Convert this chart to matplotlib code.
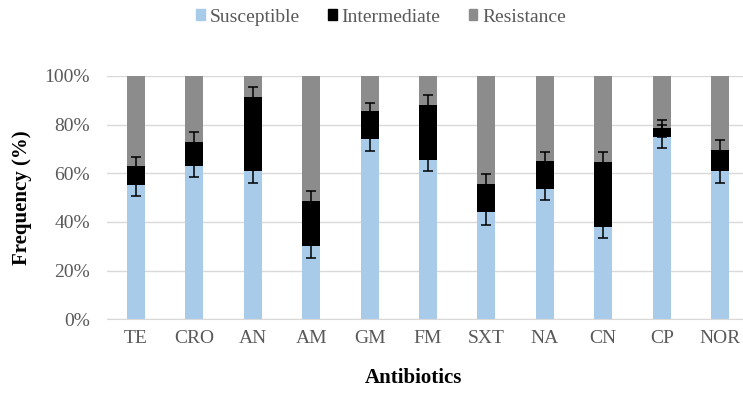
"""Frecuencia de susceptibilidad por antibiótico (barras apiladas al 100%)."""

import matplotlib
matplotlib.use("Agg")
import matplotlib.pyplot as plt
import numpy as np
from matplotlib.patches import Patch

antibioticos = ["TE", "CRO", "AN", "AM", "GM", "FM", "SXT", "NA", "CN", "CP", "NOR"]
susceptible = [55, 63, 61, 30, 74, 65.5, 44, 53.5, 38, 75, 61]
intermedio = [8, 10, 30.5, 18.5, 11.5, 22.5, 11.5, 11.5, 26.5, 3.5, 8.5]
err_susceptible = [4.4, 4.4, 4.8, 4.7, 4.8, 4.5, 5.2, 4.5, 4.6, 4.7, 4.8]
err_intermedio = [3.7, 3.8, 4.1, 4.1, 3.6, 4.1, 4.1, 3.7, 4.1, 3.4, 4.1]

AZUL = "#A9CBEA"
NEGRO = "#000000"
GRIS = "#8C8C8C"
TEXTO = "#595959"

plt.rcParams["font.family"] = ["Liberation Serif", "DejaVu Serif"]


def main() -> None:
    x = np.arange(len(antibioticos))
    s = np.array(susceptible)
    i = np.array(intermedio)
    r = 100 - s - i
    ancho = 0.31

    fig = plt.figure(figsize=(7.43, 3.94), dpi=100)
    ax = fig.add_axes([106.6 / 743, 74.7 / 394, 642.8 / 743, 243.3 / 394])

    ax.bar(x, s, ancho, color=AZUL, zorder=2)
    ax.bar(x, i, ancho, bottom=s, color=NEGRO, zorder=2)
    ax.bar(x, r, ancho, bottom=s + i, color=GRIS, zorder=2)

    err_kw = dict(fmt="none", ecolor="black", elinewidth=1.1, capsize=3.3, capthick=1.1, zorder=3)
    ax.errorbar(x, s, yerr=err_susceptible, **err_kw)
    ax.errorbar(x, s + i, yerr=err_intermedio, **err_kw)

    ax.set_xlim(-0.5, len(antibioticos) - 0.5)
    ax.set_ylim(0, 100)
    ax.set_yticks(np.arange(0, 101, 20))
    ax.set_yticklabels([f"{v}%" for v in range(0, 101, 20)])
    ax.set_xticks(x)
    ax.set_xticklabels(antibioticos)
    ax.grid(axis="y", color="#D9D9D9", linewidth=1, zorder=0)
    ax.set_axisbelow(True)
    for lado in ("left", "right", "top"):
        ax.spines[lado].set_visible(False)
    ax.spines["bottom"].set_color("#D9D9D9")
    ax.tick_params(axis="both", length=0, labelsize=14, labelcolor=TEXTO)
    ax.tick_params(axis="y", pad=12)
    ax.tick_params(axis="x", pad=8)

    fig.text(22 / 743, 1 - 198 / 394, "Frequency (%)", rotation=90, ha="center", va="center",
             fontsize=15, fontweight="bold")
    fig.text(413 / 743, 1 - 378 / 394, "Antibiotics", ha="center", va="center",
             fontsize=15, fontweight="bold")

    handles = [Patch(color=AZUL), Patch(color=NEGRO), Patch(color=GRIS)]
    fig.legend(handles, ["Susceptible", "Intermediate", "Resistance"], loc="center",
               bbox_to_anchor=(381 / 743, 1 - 17 / 394), ncol=3, frameon=False,
               fontsize=14, handlelength=0.45, handleheight=0.45, handletextpad=0.25,
               columnspacing=1.45, labelcolor=TEXTO)

    fig.savefig("out.png", dpi=100)
    plt.close(fig)


if __name__ == "__main__":
    main()
